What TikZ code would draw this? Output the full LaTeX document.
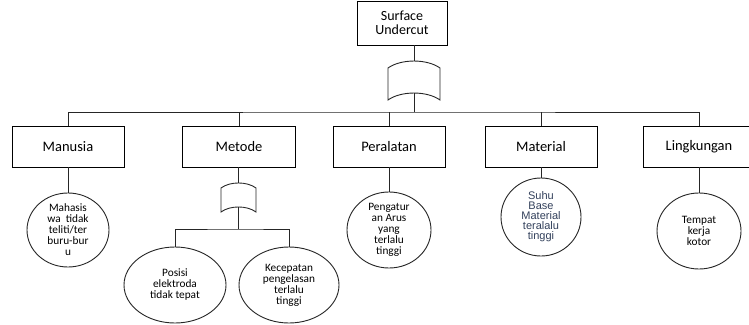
\documentclass[tikz,border=0pt]{standalone}
\usepackage{fontspec}
\setmainfont{Carlito}
\newfontfamily\arialfont{Liberation Sans}
\usetikzlibrary{shapes.geometric}
\definecolor{slateink}{HTML}{33415C}

\begin{document}
\begin{tikzpicture}[x=1pt,y=-1pt,
  wire/.style={draw=black!85, line width=0.9pt},
  catbox/.style={draw=black, line width=0.9pt, minimum width=112pt,
    minimum height=41pt, inner sep=0pt, align=center,
    font=\fontsize{14.5}{14}\selectfont},
  cause/.style={ellipse, draw=black!85, line width=0.9pt, inner sep=0pt,
    align=center, font=\fontsize{11.3}{11}\selectfont},
  gate/.style={draw=black!85, line width=0.9pt, fill=white}]
\clip (0,0) rectangle (749,324);
\fill[white] (0,0) rectangle (749,324);

% top event
\node[catbox, minimum width=90pt, minimum height=44pt,
  font=\fontsize{14}{14}\selectfont] (top) at (402,23) {Surface\\Undercut};

% main OR gate
\draw[gate] (388,100) -- (388,68) .. controls (401,58.7) and (427,58.7) .. (440,68)
  -- (440,100) .. controls (427,90.7) and (401,90.7) .. (388,100) -- cycle;
\coordinate (g1in) at (414,61);
\coordinate (g1out) at (414,93);
\coordinate (bus) at (414,112);

% categories
\node[catbox] (manusia) at (68,146.5) {Manusia};
\node[catbox, minimum width=113pt] (metode) at (239,146.5) {Metode};
\node[catbox] (peralatan) at (389,146.5) {Peralatan};
\node[catbox] (material) at (541,146.5) {Material};
\node[catbox] (lingkungan) at (699,146.5) {Lingkungan};

% causes
\node[cause, minimum width=82pt, minimum height=74pt] (mahasiswa) at (68,230)
  {Mahasis\\wa\ \ tidak\\teliti/ter\\buru-bur\\u};
\node[cause, minimum width=84pt, minimum height=76pt] (pengatur) at (389,230)
  {Pengatur\\an Arus\\yang\\terlalu\\tinggi};
\node[cause, minimum width=80pt, minimum height=78pt,
  font=\arialfont\fontsize{11}{10}\selectfont, text=slateink] (suhu) at (541,217)
  {Suhu\\Base\\Material\\teralalu\\tinggi};
\node[cause, minimum width=84pt, minimum height=76pt] (tempat) at (699,231)
  {Tempat\\kerja\\kotor};

% sub gate under Metode
\draw[gate] (221,212) -- (221,188) .. controls (230,181.3) and (247,181.3) .. (256,188)
  -- (256,212) .. controls (247,205.3) and (230,205.3) .. (221,212) -- cycle;
\coordinate (g2in) at (238.5,183);
\coordinate (g2out) at (238.5,207);
\coordinate (bus2) at (238.5,229);

\node[cause, minimum width=102pt, minimum height=76pt] (posisi) at (175,285)
  {Posisi\\elektroda\\tidak tepat};
\node[cause, minimum width=100pt, minimum height=76pt] (kecepatan) at (289,285)
  {Kecepatan\\pengelasan\\terlalu\\tinggi};

% connectors
\draw[wire] (top.south -| g1in) -- (g1in);
\draw[wire] (g1out) -- (bus);
\draw[wire] (manusia.north) |- (bus) -| (lingkungan.north);
\draw[wire] (metode.north) -- (metode.north |- bus);
\draw[wire] (peralatan.north) -- (peralatan.north |- bus);
\draw[wire] (material.north) -- (material.north |- bus);

\draw[wire] (manusia.south) -- (mahasiswa.north);
\draw[wire] (peralatan.south) -- (pengatur.north);
\draw[wire] (material.south) -- (suhu.north);
\draw[wire] (lingkungan.south) -- (tempat.north);

\draw[wire] (metode.south -| g2in) -- (g2in);
\draw[wire] (g2out) -- (bus2);
\draw[wire] (posisi.north) |- (bus2) -| (kecepatan.north);
\end{tikzpicture}
\end{document}
